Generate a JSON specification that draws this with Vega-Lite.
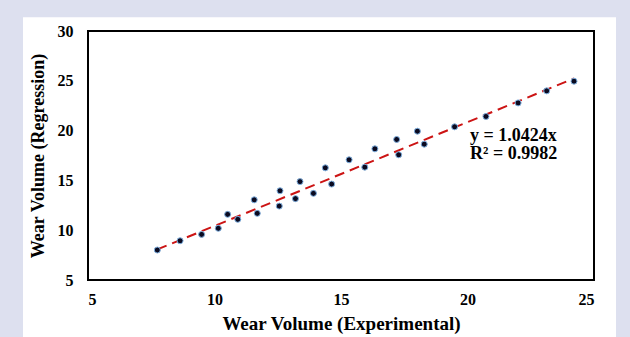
{
  "$schema": "https://vega.github.io/schema/vega-lite/v6.json",
  "autosize": {"type": "none"},
  "width": 506,
  "height": 249,
  "padding": {"left": 88, "top": 31, "right": 36, "bottom": 57},
  "background": "#dde0ef",
  "config": {
    "view": {"stroke": null},
    "font": "Liberation Serif",
    "axis": {
      "grid": false, "ticks": false, "domain": false,
      "labelFont": "Liberation Serif", "labelFontWeight": "bold", "labelFontSize": 16, "labelColor": "#000",
      "titleFont": "Liberation Serif", "titleFontWeight": "bold", "titleFontSize": 18, "titleColor": "#000"
    }
  },
  "datasets": {
    "points": [
      {"exp": 7.74, "reg": 8.01},
      {"exp": 8.64, "reg": 8.94},
      {"exp": 9.49, "reg": 9.58},
      {"exp": 10.15, "reg": 10.19},
      {"exp": 10.52, "reg": 11.59},
      {"exp": 10.92, "reg": 11.09},
      {"exp": 11.57, "reg": 13.05},
      {"exp": 11.69, "reg": 11.69},
      {"exp": 12.59, "reg": 13.96},
      {"exp": 12.56, "reg": 12.42},
      {"exp": 13.2, "reg": 13.17},
      {"exp": 13.38, "reg": 14.88},
      {"exp": 13.91, "reg": 13.7},
      {"exp": 14.38, "reg": 16.26},
      {"exp": 14.63, "reg": 14.63},
      {"exp": 15.32, "reg": 17.07},
      {"exp": 15.94, "reg": 16.33},
      {"exp": 16.34, "reg": 18.17},
      {"exp": 17.2, "reg": 19.11},
      {"exp": 17.28, "reg": 17.57},
      {"exp": 18.02, "reg": 19.94},
      {"exp": 18.29, "reg": 18.64},
      {"exp": 19.49, "reg": 20.38},
      {"exp": 20.73, "reg": 21.42},
      {"exp": 22.0, "reg": 22.78},
      {"exp": 23.13, "reg": 23.99},
      {"exp": 24.21, "reg": 24.96}
    ],
    "trend": [{"exp": 7.74, "fit": 8.07}, {"exp": 24.21, "fit": 25.24}],
    "one": [{"label": "y = 1.0424x"}]
  },
  "layer": [
    {
      "data": {"name": "one"},
      "mark": {"type": "rect", "fill": "white", "stroke": null},
      "encoding": {
        "x": {"datum": 2.43, "type": "quantitative", "scale": {"domain": [5, 25], "nice": false, "zero": false},
              "axis": {"values": [5, 10, 15, 20, 25], "title": "Wear  Volume (Experimental)", "titleFontSize": 19, "labelPadding": 11, "titlePadding": 7, "zindex": 2}},
        "x2": {"datum": 25.87},
        "y": {"datum": 31.38, "type": "quantitative", "scale": {"domain": [5, 30], "nice": false, "zero": false},
              "axis": {"values": [5, 10, 15, 20, 25, 30], "title": "Wear  Volume (Regression)", "labelPadding": 15, "titlePadding": 10, "zindex": 2}},
        "y2": {"datum": -1}
      }
    },
    {
      "data": {"name": "one"},
      "mark": {"type": "rect", "fill": null, "stroke": "#000", "strokeWidth": 2},
      "encoding": {
        "x": {"datum": 5, "type": "quantitative"},
        "x2": {"datum": 25},
        "y": {"datum": 5, "type": "quantitative"},
        "y2": {"datum": 30}
      }
    },
    {
      "data": {"name": "trend"},
      "mark": {"type": "line", "color": "#cc1414", "strokeWidth": 2, "strokeDash": [10, 6]},
      "encoding": {
        "x": {"field": "exp", "type": "quantitative"},
        "y": {"field": "fit", "type": "quantitative"}
      }
    },
    {
      "data": {"name": "points"},
      "mark": {"type": "point", "shape": "circle", "filled": true, "size": 36, "fill": "#0a0a20", "stroke": "#7fb0e0", "strokeWidth": 1, "opacity": 1},
      "encoding": {
        "x": {"field": "exp", "type": "quantitative"},
        "y": {"field": "reg", "type": "quantitative"}
      }
    },
    {
      "data": {"name": "one"},
      "mark": {"type": "text", "align": "left", "baseline": "top", "font": "Liberation Serif", "fontWeight": "bold", "fontSize": 18, "lineHeight": 18, "fill": "#000",
               "text": ["y = 1.0424x", "R² = 0.9982"]},
      "encoding": {
        "x": {"datum": 20.1, "type": "quantitative"},
        "y": {"datum": 20.4, "type": "quantitative"}
      }
    }
  ]
}
